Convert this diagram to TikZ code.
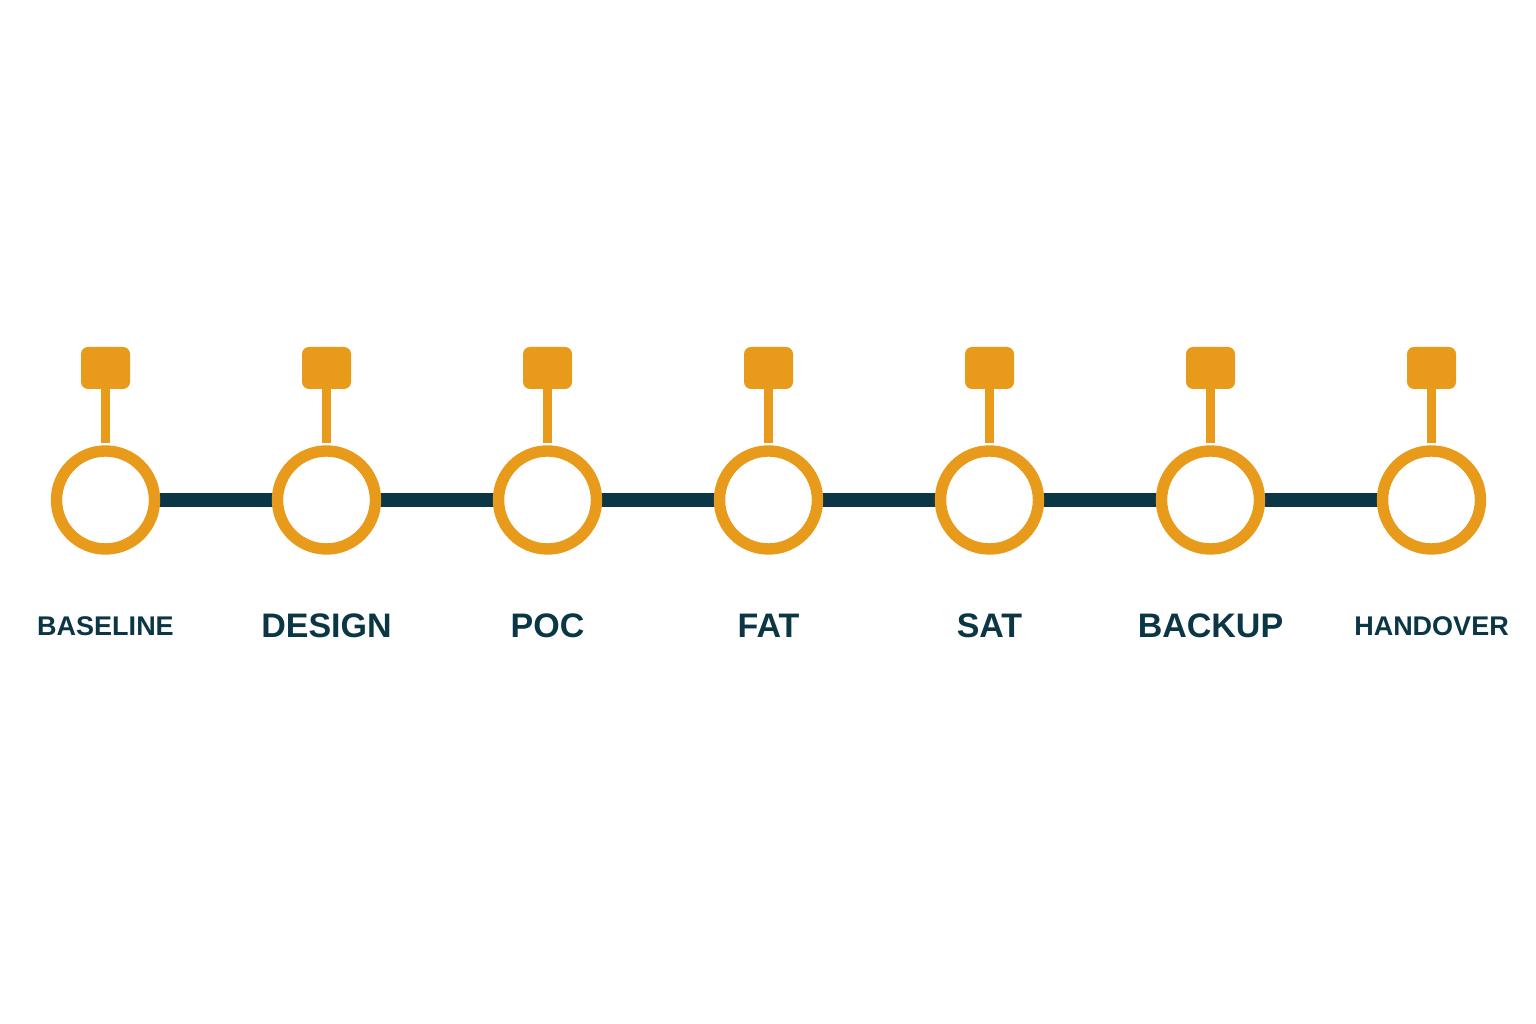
\documentclass[tikz,border=0pt]{standalone}
\usepackage{fontspec}
\setmainfont{Liberation Sans}
\usepackage{tikz}
\usetikzlibrary{positioning,calc,backgrounds}

\definecolor{stageorange}{HTML}{E89B1A}
\definecolor{stagenavy}{HTML}{0A3645}

\begin{document}
\begin{tikzpicture}[x=1pt, y=1pt,
    ring/.style={circle, draw=stageorange, fill=white, line width=11.4pt, minimum size=98pt, inner sep=0pt},
    flag/.style={rectangle, rounded corners=7pt, fill=stageorange, minimum width=49pt, minimum height=42pt, inner sep=0pt},
    stem/.style={draw=stageorange, line width=9.5pt},
    link/.style={draw=stagenavy, line width=13.7pt},
    stagelabel/.style={text=stagenavy, font=\bfseries, anchor=center, inner sep=0pt}]
    \useasboundingbox (0,0) rectangle (1536,1024);
    \def\DX{221}
    \def\Ybase{524}
    \foreach \i/\name/\fs in {0/BASELINE/27, 1/DESIGN/34, 2/POC/34, 3/FAT/34, 4/SAT/34, 5/BACKUP/34, 6/HANDOVER/27} {
      \node[ring] (ring\i) at (105.5+\i*\DX, \Ybase) {};
      \node[flag] (flag\i) at (105.5+\i*\DX, 656) {};
      \draw[stem] (flag\i.south) -- ([yshift=2pt]ring\i.north);
      \node[stagelabel, font=\fontsize{\fs}{\fs}\selectfont\bfseries] (lbl\i) at (105.5+\i*\DX, 398) {\name};
    }
    \begin{scope}[on background layer]
      \foreach \i [evaluate=\i as \j using int(\i+1)] in {0,...,5}
        \draw[link] (ring\i.center) -- (ring\j.center);
    \end{scope}
  \end{tikzpicture}
\end{document}
